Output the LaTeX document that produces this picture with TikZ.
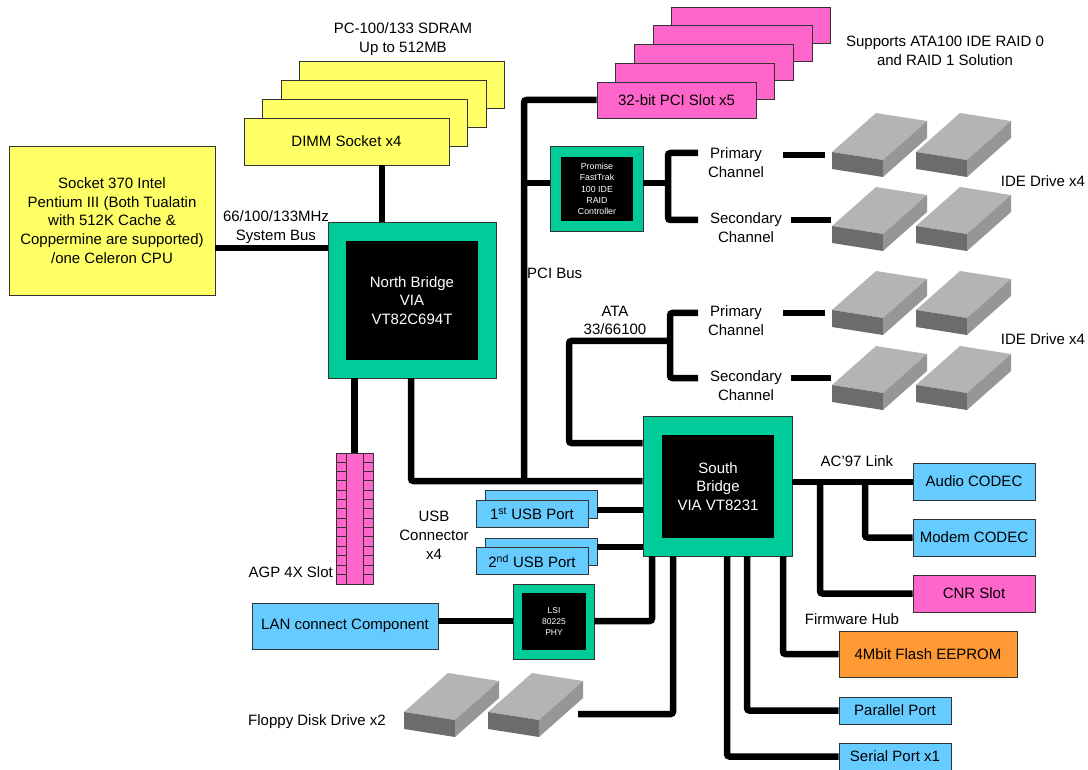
\documentclass[tikz,border=0pt]{standalone}
\usepackage{fontspec}
\setmainfont{Liberation Sans}
\usetikzlibrary{calc}
\definecolor{chipgreen}{RGB}{0,204,153}
\definecolor{dimmyellow}{RGB}{255,255,102}
\definecolor{slotpink}{RGB}{255,102,204}
\definecolor{portblue}{RGB}{102,204,255}
\definecolor{flashorange}{RGB}{255,153,51}
\definecolor{drivetop}{RGB}{180,180,180}
\definecolor{drivefront}{RGB}{108,108,108}
\definecolor{driveside}{RGB}{150,150,150}
\newcommand{\hdd}[2]{%
  \fill[drivetop] (#1,#2) -- ++(51,8) -- ++(44,-39) -- ++(-51,-8) -- cycle;
  \fill[drivefront] (#1,#2) -- ++(51,8) -- ++(0,17) -- ++(-51,-8) -- cycle;
  \fill[driveside] (#1,#2) ++(51,8) -- ++(44,-39) -- ++(0,17) -- ++(-44,39) -- cycle;}

\begin{document}
\begin{tikzpicture}[x=1pt, y=-1pt,
    font=\fontsize{15}{18.8}\selectfont,
    box/.style = {draw=black!80, line width=0.8pt, align=center, inner sep=0pt},
    chip/.style = {box, fill=chipgreen},
    die/.style = {fill=black, text=white, align=center, inner sep=0pt},
    bus/.style = {line width=6.5pt, rounded corners=2.5pt},
    lbl/.style = {align=center, inner sep=0pt}]
  \useasboundingbox (0,0) rectangle (1088,770);

  % processor and memory
  \node[box, fill=dimmyellow, minimum width=206, minimum height=149] (cpu) at (112,220.5)
    {Socket 370 Intel\\Pentium III (Both Tualatin\\with 512K Cache \&\\Coppermine are supported)\\/one Celeron CPU};
  \foreach \i in {3,2,1}
    \node[box, fill=dimmyellow, minimum width=205, minimum height=47] (dimm\i) at (346.5+18.6*\i,141.5-18.8*\i) {};
  \node[box, fill=dimmyellow, minimum width=205, minimum height=47] (dimm) at (346.5,141.5) {DIMM Socket x4};
  \node[lbl] (sdram) at (403,39) {PC-100/133 SDRAM\\Up to 512MB};

  % north bridge
  \node[chip, minimum width=168, minimum height=156] (nb) at (412,300) {};
  \node[die, minimum width=132, minimum height=119] (nbdie) at (412,300.5) {North Bridge\\VIA\\VT82C694T};
  \node[lbl] (fsb) at (276,227.5) {66/100/133MHz\\System Bus};
  \draw[bus] (cpu.east |- 0,248) -- (nb.west |- 0,248);
  \draw[bus] (dimm.south -| 382,0) -- (nb.north -| 382,0);

  % PCI slots and RAID
  \foreach \i in {4,3,2,1}
    \node[box, fill=slotpink, minimum width=159, minimum height=36] (pci\i) at (676.5+18.7*\i,100-18.7*\i) {};
  \node[box, fill=slotpink, minimum width=159, minimum height=36] (pci) at (676.5,100) {32-bit PCI Slot x5};
  \node[lbl] (raidnote) at (945,50.5) {Supports ATA100 IDE RAID 0\\and RAID 1 Solution};
  \node[chip, minimum width=93, minimum height=85] (raid) at (596.5,188.5) {};
  \node[die, minimum width=72, minimum height=64, font=\fontsize{8.8}{11.3}\selectfont] (raiddie) at (597,189)
    {Promise\\FastTrak\\100 IDE\\RAID\\Controller};
  \node[lbl, anchor=west] (pcibus) at (527,273) {PCI Bus};

  % south bridge
  \node[chip, minimum width=149, minimum height=140] (sb) at (717.5,486) {};
  \node[die, minimum width=112, minimum height=103] (sbdie) at (718,486.5) {South\\Bridge\\VIA VT8231};
  \coordinate (pcibot) at (524,481);
  \draw[bus] (pci.west) -| (pcibot);
  \draw[bus] (nb.south -| 411,0) |- (sb.west |- pcibot);
  \draw[bus] (pcibot |- 0,183) -- (raid.west |- 0,183);

  % IDE channels
  \node[lbl] (prim1) at (736,162.5) {Primary\\Channel};
  \node[lbl] (sec1) at (746,227.5) {Secondary\\Channel};
  \node[lbl] (prim2) at (736,320.5) {Primary\\Channel};
  \node[lbl] (sec2) at (746,386) {Secondary\\Channel};
  \node[lbl] (ata) at (615,320.5) {ATA\\33/66100};
  \draw[bus] (raid.east |- 0,183) -- (668,183);
  \draw[bus] (698,153) -| (668,220) -- (698,220);
  \draw[bus] (sb.west |- 0,443) -| (569,341) -- (670,341);
  \draw[bus] (698,313) -| (670,378) -- (698,378);
  \draw[bus] (783,155) -- (825,155);
  \draw[bus] (791,220) -- (831,220);
  \draw[bus] (783,313) -- (825,313);
  \draw[bus] (791,378) -- (831,378);
  \foreach \y in {152,226,310,385} {
    \hdd{832}{\y}
    \hdd{916}{\y}
  }
  \node[lbl] (ide1) at (1043,181) {IDE Drive x4};
  \node[lbl] (ide2) at (1043,339) {IDE Drive x4};

  % AC'97 devices
  \node[box, fill=portblue, minimum width=122, minimum height=37] (audio) at (974,481.5) {Audio CODEC};
  \node[box, fill=portblue, minimum width=122, minimum height=37] (modem) at (974,537.5) {Modem CODEC};
  \node[box, fill=slotpink, minimum width=122, minimum height=37] (cnr) at (974,593.5) {CNR Slot};
  \node[lbl] (ac97) at (857,461) {AC'97 Link};
  \draw[bus] (sb.east |- 0,482) -- (audio.west |- 0,482);
  \draw[bus] (865,482) |- (modem.west);
  \draw[bus] (820,482) |- (cnr.west);

  % firmware and legacy ports
  \node[box, fill=flashorange, minimum width=178, minimum height=46] (flash) at (928,654) {4Mbit Flash EEPROM};
  \node[lbl] (fwh) at (852,619) {Firmware Hub};
  \node[box, fill=portblue, minimum width=112, minimum height=27] (par) at (895,710.5) {Parallel Port};
  \node[box, fill=portblue, minimum width=112, minimum height=27] (ser) at (895,756.5) {Serial Port x1};
  \draw[bus] (sb.south -| 783,0) |- (flash.west);
  \draw[bus] (sb.south -| 747,0) |- (par.west);
  \draw[bus] (sb.south -| 727,0) |- (ser.west);

  % USB
  \node[box, fill=portblue, minimum width=112, minimum height=27.5] (usb1b) at (541,504.5) {};
  \node[box, fill=portblue, minimum width=112, minimum height=27.5] (usb1) at (532,514) {1\textsuperscript{st} USB Port};
  \node[box, fill=portblue, minimum width=112, minimum height=27.5] (usb2b) at (541,552) {};
  \node[box, fill=portblue, minimum width=112, minimum height=27.5] (usb2) at (532,561) {2\textsuperscript{nd} USB Port};
  \node[lbl] (usb) at (434,535) {USB\\Connector\\x4};
  \draw[bus] (usb1b.east |- 0,510) -- (sb.west |- 0,510);
  \draw[bus] (usb2b.east |- 0,547) -- (sb.west |- 0,547);

  % AGP
  \node[box, fill=slotpink, minimum width=37, minimum height=131] (agp) at (354.5,518.5) {};
  \draw[black!80, line width=0.8pt] (346,453) -- (346,584) (363,453) -- (363,584);
  \foreach \i in {1,...,13}
    \draw[black!80, line width=0.8pt] ($(agp.north west)+(0,\i*9.36)$) -- ++(10,0)
      ($(agp.north east)+(0,\i*9.36)$) -- ++(-10,0);
  \draw[bus] (agp.north |- nb.south) -- (agp.north);
  \node[lbl, anchor=east] (agplbl) at (333,572) {AGP 4X Slot};

  % LAN
  \node[box, fill=portblue, minimum width=186, minimum height=46] (lan) at (345,626) {LAN connect Component};
  \node[chip, minimum width=81, minimum height=75] (lsi) at (553.5,621.5) {};
  \node[die, minimum width=64, minimum height=57, font=\fontsize{8.5}{11}\selectfont] (lsidie) at (554,621.5) {LSI\\80225\\PHY};
  \draw[bus] (lan.east |- 0,621) -- (lsi.west |- 0,621);
  \draw[bus] (lsi.east |- 0,621) -| (sb.south -| 652,0);

  % floppy
  \hdd{404}{712}
  \hdd{488}{712}
  \node[lbl] (fdd) at (317,722) {Floppy Disk Drive x2};
  \draw[bus] (578,714) -| (sb.south -| 673,0);
\end{tikzpicture}
\end{document}
